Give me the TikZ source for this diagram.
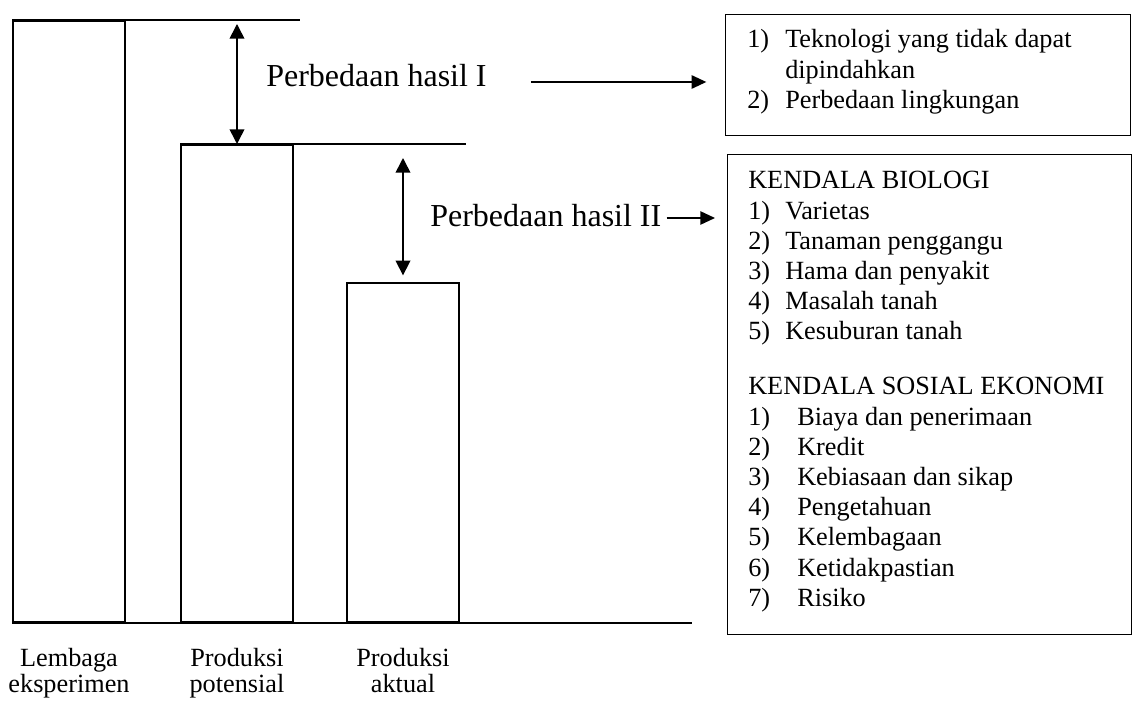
\documentclass[tikz,border=0pt]{standalone}
\usepackage{fontspec}
\setmainfont{Liberation Serif}
\usetikzlibrary{arrows.meta,calc}

\newcommand{\boxfont}{\fontsize{19.7}{22.65}\selectfont}
\newcommand{\namefont}{\fontsize{19.7}{19.5}\selectfont}
\newcommand{\bigfont}{\fontsize{24}{28}\selectfont}

\tikzset{
  bar/.style={draw, line width=1.5pt, minimum width=84pt, anchor=south, inner sep=0pt},
  guide/.style={line width=0.8pt},
  arr/.style={line width=1.2pt, -{Triangle[length=11pt,width=10pt]}},
  dblarr/.style={line width=1.2pt, {Triangle[length=11pt,width=11pt]}-{Triangle[length=11pt,width=11pt]}},
  listbox/.style={draw, line width=0.8pt, anchor=north west, inner sep=0pt},
  listtext/.style={anchor=base west, inner sep=0pt, font=\boxfont},
  barname/.style={anchor=base, inner sep=0pt, font=\namefont},
  hasil/.style={anchor=base west, inner sep=0pt, font=\bigfont}
}

\begin{document}
\begin{tikzpicture}[x=0.75pt, y=-0.75pt]
  \useasboundingbox (0,0) rectangle (1133,702);
  % bars
  \node[bar, minimum height=450.75pt] (lembaga) at (69,623) {};
  \node[bar, minimum height=357.75pt] (potensial) at (237,623) {};
  \node[bar, minimum height=254.25pt] (aktual) at (403,623) {};

  % level lines
  \coordinate (top1) at (300,20);
  \coordinate (top2) at (466,146);
  \coordinate (ground) at (692,623);
  \draw[guide] (lembaga.north west) -- (lembaga.north west -| top1);
  \draw[guide] (potensial.north west) -- (potensial.north west -| top2);
  \draw[guide] (lembaga.south west) -- (lembaga.south west -| ground);

  % gaps
  \coordinate (gap1) at (237,24);
  \coordinate (gap2) at (403,158);
  \draw[dblarr] (gap1) -- (potensial.north);
  \draw[dblarr, shorten >=5pt] (gap2) -- (aktual.north);

  \node[hasil] (hasil1) at (266,87) {Perbedaan hasil I};
  \node[hasil] (hasil2) at (430,227) {Perbedaan hasil II};

  % boxes
  \node[listbox, minimum width=303.75pt, minimum height=90.75pt] (sebab1) at (725,14) {};
  \node[listbox, minimum width=303pt, minimum height=360pt] (kendala) at (727,154) {};

  \coordinate (a1) at ($(hasil1.base east)+(44,-5)$);
  \coordinate (a2) at ($(hasil2.base east)+(5,-9)$);
  \draw[arr, shorten >=14pt] (a1) -- (a1 -| sebab1.west);
  \draw[arr, shorten >=9pt] (a2) -- (a2 -| kendala.west);

  \node[listtext] (sebab1list) at (747,48) {\begin{tabular}[t]{@{}p{28.5pt}@{}l@{}}
    1) & Teknologi yang tidak dapat\\
       & dipindahkan\\
    2) & Perbedaan lingkungan
  \end{tabular}};
  \node[listtext] (biologi) at (748,189) {\begin{tabular}[t]{@{}p{27.75pt}@{}l@{}}
    \multicolumn{2}{@{}l@{}}{KENDALA BIOLOGI}\\
    1) & Varietas\\
    2) & Tanaman penggangu\\
    3) & Hama dan penyakit\\
    4) & Masalah tanah\\
    5) & Kesuburan tanah
  \end{tabular}};
  \node[listtext] (sosial) at (748,395) {\begin{tabular}[t]{@{}p{36.75pt}@{}l@{}}
    \multicolumn{2}{@{}l@{}}{KENDALA SOSIAL EKONOMI}\\
    1) & Biaya dan penerimaan\\
    2) & Kredit\\
    3) & Kebiasaan dan sikap\\
    4) & Pengetahuan\\
    5) & Kelembagaan\\
    6) & Ketidakpastian\\
    7) & Risiko
  \end{tabular}};

  % bar names
  \node[barname] (lembaganame) at (69,666) {\begin{tabular}[t]{@{}c@{}}Lembaga\\eksperimen\end{tabular}};
  \node[barname] (potensialname) at (237,666) {\begin{tabular}[t]{@{}c@{}}Produksi\\potensial\end{tabular}};
  \node[barname] (aktualname) at (403,666) {\begin{tabular}[t]{@{}c@{}}Produksi\\aktual\end{tabular}};
\end{tikzpicture}
\end{document}
